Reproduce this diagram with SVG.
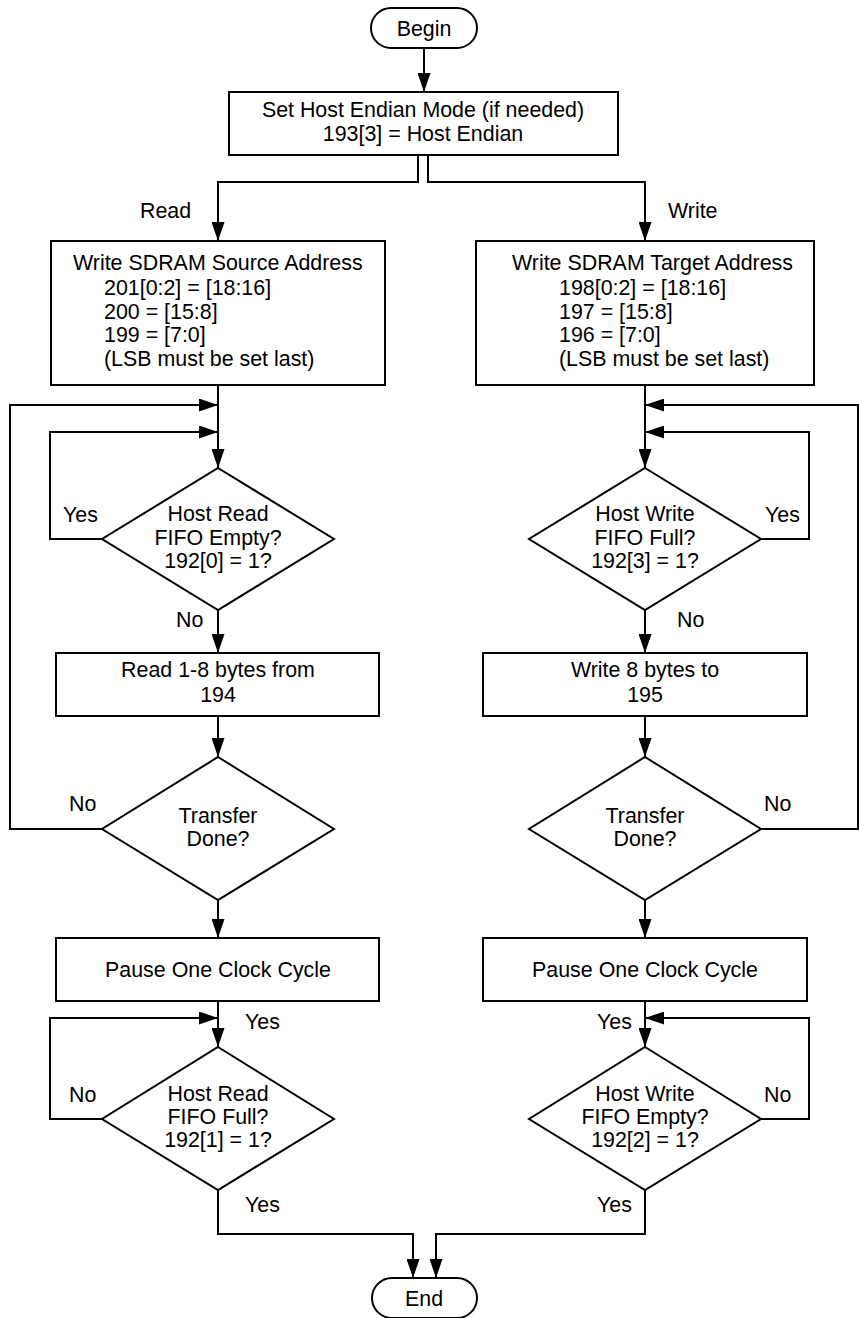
<svg xmlns="http://www.w3.org/2000/svg" width="859" height="1318" viewBox="0 0 859 1318">
<defs>
<style>
.n{fill:#fff;stroke:#000;stroke-width:2}
.c{fill:none;stroke:#000;stroke-width:2;marker-end:url(#ah)}
.l{fill:none;stroke:#000;stroke-width:2}
text{font-family:"Liberation Sans",Arial,sans-serif;font-size:21.4px;fill:#000}
.m{text-anchor:middle}
</style>
<marker id="ah" markerUnits="userSpaceOnUse" markerWidth="19" markerHeight="13" refX="19" refY="6.5" orient="auto">
<path d="M0,0 L19,6.5 L0,13 z" fill="#000"/>
</marker>
</defs>
<rect width="859" height="1318" fill="#fff"/>
<g id="connectors">
<path class="c" d="M424,48 V92"/>
<path class="c" d="M418,155 V182 H218 V241"/>
<path class="c" d="M428,155 V182 H645 V241"/>
<path class="c" d="M218,385 V468"/>
<path class="c" d="M645,385 V468"/>
<path class="c" d="M102,539 H50 V432 H218"/>
<path class="c" d="M102,829 H10 V405 H218"/>
<path class="c" d="M761,539 H809 V432 H645"/>
<path class="c" d="M761,829 H858 V405 H645"/>
<path class="c" d="M218,610 V653"/>
<path class="c" d="M645,610 V653"/>
<path class="c" d="M218,716 V757"/>
<path class="c" d="M645,716 V757"/>
<path class="c" d="M218,900 V938"/>
<path class="c" d="M645,900 V938"/>
<path class="c" d="M218,1001 V1047"/>
<path class="c" d="M645,1001 V1047"/>
<path class="c" d="M102,1119 H50 V1018 H218"/>
<path class="c" d="M761,1119 H809 V1018 H645"/>
<path class="c" d="M218,1190 V1234 H413 V1278"/>
<path class="c" d="M645,1190 V1234 H436 V1278"/>
<text x="140" y="218">Read</text>
<text x="668" y="218">Write</text>
<text x="63" y="522">Yes</text>
<text x="765" y="522">Yes</text>
<text x="176" y="627">No</text>
<text x="677" y="627">No</text>
<text x="69" y="811">No</text>
<text x="764" y="811">No</text>
<text x="245" y="1029">Yes</text>
<text x="597" y="1029">Yes</text>
<text x="69" y="1102">No</text>
<text x="764" y="1102">No</text>
<text x="245" y="1212">Yes</text>
<text x="597" y="1212">Yes</text>
</g>
<g id="begin">
<rect class="n" x="371" y="8" width="106" height="40" rx="20"/>
<text class="m" x="424" y="36">Begin</text>
</g>
<g id="setEndian">
<rect class="n" x="229" y="92" width="389" height="63"/>
<text class="m" x="423" y="117">Set Host Endian Mode (if needed)</text>
<text class="m" x="423" y="141">193[3] = Host Endian</text>
</g>
<g id="srcAddr">
<rect class="n" x="51" y="241" width="334" height="144"/>
<text x="73" y="270">Write SDRAM Source Address</text>
<text x="104" y="295">201[0:2] = [18:16]</text>
<text x="104" y="319">200 = [15:8]</text>
<text x="104" y="342">199 = [7:0]</text>
<text x="104" y="366">(LSB must be set last)</text>
</g>
<g id="tgtAddr">
<rect class="n" x="476" y="241" width="338" height="144"/>
<text x="512" y="270">Write SDRAM Target Address</text>
<text x="559" y="295">198[0:2] = [18:16]</text>
<text x="559" y="319">197 = [15:8]</text>
<text x="559" y="342">196 = [7:0]</text>
<text x="559" y="366">(LSB must be set last)</text>
</g>
<g id="readEmpty">
<polygon class="n" points="218,468 334,539 218,610 102,539"/>
<text class="m" x="218" y="521">Host Read</text>
<text class="m" x="218" y="545">FIFO Empty?</text>
<text class="m" x="218" y="568">192[0] = 1?</text>
</g>
<g id="writeFull">
<polygon class="n" points="645,468 761,539 645,610 529,539"/>
<text class="m" x="645" y="521">Host Write</text>
<text class="m" x="645" y="545">FIFO Full?</text>
<text class="m" x="645" y="568">192[3] = 1?</text>
</g>
<g id="readBytes">
<rect class="n" x="56" y="653" width="323" height="63"/>
<text class="m" x="218" y="677">Read 1-8 bytes from</text>
<text class="m" x="218" y="702">194</text>
</g>
<g id="writeBytes">
<rect class="n" x="483" y="653" width="324" height="63"/>
<text class="m" x="645" y="677">Write 8 bytes to</text>
<text class="m" x="645" y="702">195</text>
</g>
<g id="doneRead">
<polygon class="n" points="218,757 334,829 218,900 102,829"/>
<text class="m" x="218" y="823">Transfer</text>
<text class="m" x="218" y="846">Done?</text>
</g>
<g id="doneWrite">
<polygon class="n" points="645,757 761,829 645,900 529,829"/>
<text class="m" x="645" y="823">Transfer</text>
<text class="m" x="645" y="846">Done?</text>
</g>
<g id="pauseRead">
<rect class="n" x="56" y="938" width="323" height="63"/>
<text class="m" x="218" y="977">Pause One Clock Cycle</text>
</g>
<g id="pauseWrite">
<rect class="n" x="483" y="938" width="324" height="63"/>
<text class="m" x="645" y="977">Pause One Clock Cycle</text>
</g>
<g id="readFull">
<polygon class="n" points="218,1047 334,1119 218,1190 102,1119"/>
<text class="m" x="218" y="1101">Host Read</text>
<text class="m" x="218" y="1124">FIFO Full?</text>
<text class="m" x="218" y="1147">192[1] = 1?</text>
</g>
<g id="writeEmpty">
<polygon class="n" points="645,1047 761,1119 645,1190 529,1119"/>
<text class="m" x="645" y="1101">Host Write</text>
<text class="m" x="645" y="1124">FIFO Empty?</text>
<text class="m" x="645" y="1147">192[2] = 1?</text>
</g>
<g id="end">
<rect class="n" x="372" y="1278" width="105" height="40" rx="20"/>
<text class="m" x="424" y="1306">End</text>
</g>
</svg>
